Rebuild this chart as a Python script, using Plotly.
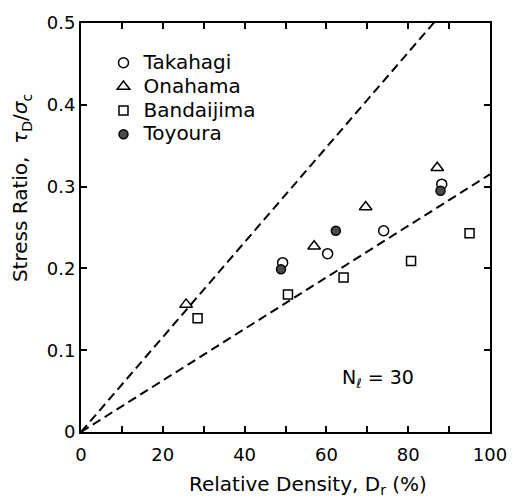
import plotly.graph_objects as go

# Relative density Dr (%) and cyclic stress ratio for each sand
takahagi_dr = [49.3, 60.3, 74.0, 88.2]
takahagi_sr = [0.207, 0.218, 0.246, 0.303]

onahama_dr = [25.7, 57.0, 69.6, 87.1]
onahama_sr = [0.156, 0.227, 0.275, 0.323]

bandaijima_dr = [28.5, 50.6, 64.2, 80.7, 95.0]
bandaijima_sr = [0.139, 0.168, 0.189, 0.209, 0.243]

toyoura_dr = [48.9, 62.3, 87.9]
toyoura_sr = [0.199, 0.246, 0.295]

# Bounding dashed lines through the origin
bound_dr = [0, 100]
upper_sr = [0, 0.58]
lower_sr = [0, 0.315]

x_ticks = [0, 20, 40, 60, 80, 100]
y_ticks = [0, 0.1, 0.2, 0.3, 0.4, 0.5]
y_ticklabels = ["0", "0.1", "0.2", "0.3", "0.4", "0.5"]

FONT = "DejaVu Sans"


def big(name):
    # legend rows keep a compact height while the label itself is larger
    return f'<span style="font-size:20px">{name}</span>'


fig = go.Figure()

for ys in (upper_sr, lower_sr):
    fig.add_trace(go.Scatter(
        x=bound_dr, y=ys, mode="lines", showlegend=False,
        line=dict(color="black", width=2, dash="9px,5px"),
        hoverinfo="skip",
    ))

fig.add_trace(go.Scatter(
    x=takahagi_dr, y=takahagi_sr, mode="markers", name=big("Takahagi"),
    marker=dict(symbol="circle-open", size=10, color="black",
                line=dict(width=1.5, color="black")),
))
fig.add_trace(go.Scatter(
    x=onahama_dr, y=onahama_sr, mode="markers", name=big("Onahama"),
    marker=dict(symbol="triangle-up-open", size=11, color="black",
                line=dict(width=1.5, color="black")),
))
fig.add_trace(go.Scatter(
    x=bandaijima_dr, y=bandaijima_sr, mode="markers", name=big("Bandaijima"),
    marker=dict(symbol="square-open", size=9, color="black",
                line=dict(width=1.5, color="black")),
))
fig.add_trace(go.Scatter(
    x=toyoura_dr, y=toyoura_sr, mode="markers", name=big("Toyoura"),
    marker=dict(symbol="circle", size=9, color="#4a4a4a",
                line=dict(width=1.5, color="black")),
))

fig.add_annotation(
    x=72.6, y=0.065, xref="x", yref="y",
    text="N<sub><i>ℓ</i></sub> = 30", showarrow=False,
    font=dict(family=FONT, size=19, color="black"),
)

# Axis titles
fig.add_annotation(
    x=0.556, y=-0.130, xref="paper", yref="paper",
    xanchor="center", yanchor="middle",
    text="Relative Density, D<sub>r</sub> (%)", showarrow=False,
    font=dict(family=FONT, size=20, color="black"),
)
fig.add_annotation(
    x=-0.146, y=0.597, xref="paper", yref="paper",
    xanchor="center", yanchor="middle", textangle=-90,
    text="Stress Ratio,  <i>τ</i><sub>D</sub>/<i>σ</i><sub>c</sub>",
    showarrow=False,
    font=dict(family=FONT, size=20, color="black"),
)

axis_common = dict(
    showline=True, linecolor="black", linewidth=2, mirror="ticks",
    ticks="inside", ticklen=6, tickwidth=1.5, tickcolor="black",
    showgrid=False, zeroline=False,
    tickfont=dict(family=FONT, size=18, color="black"),
)

fig.update_xaxes(
    range=[0, 100], tickvals=x_ticks, ticklabelstandoff=5,
    minor=dict(dtick=10, ticks="inside", ticklen=6, tickwidth=1.5,
               tickcolor="black", showgrid=False),
    **axis_common,
)
fig.update_yaxes(
    range=[0, 0.5], tickvals=y_ticks, ticktext=y_ticklabels,
    **axis_common,
)

fig.update_layout(
    width=519, height=498,
    margin=dict(l=81, r=26, t=18, b=66),
    plot_bgcolor="white", paper_bgcolor="white",
    legend=dict(x=0.055, y=0.944, xanchor="left", yanchor="top",
                bgcolor="rgba(0,0,0,0)", borderwidth=0,
                font=dict(family=FONT, size=16, color="black"),
                itemwidth=30, tracegroupgap=0),
)

fig.write_html("out.html")
